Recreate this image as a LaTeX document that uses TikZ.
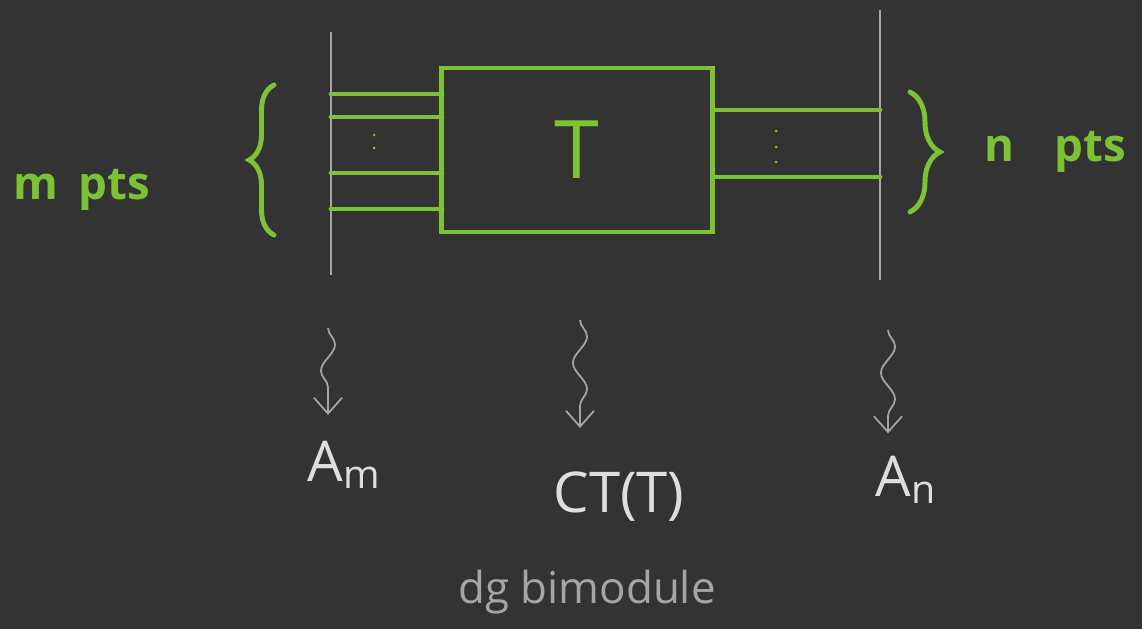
\documentclass[tikz,border=0pt]{standalone}
\usepackage{fontspec}
\setmainfont{Open Sans}
\usetikzlibrary{arrows.meta,decorations.pathmorphing,decorations.pathreplacing}
\definecolor{board}{RGB}{51,51,51}
\definecolor{chalkgreen}{RGB}{124,194,52}
\definecolor{chalkgray}{RGB}{165,165,165}
\definecolor{chalkwhite}{RGB}{222,222,222}
\tikzset{
  strand/.style={chalkgreen, line width=2.8pt, line cap=round},
  wall/.style={chalkgray, line width=1pt},
  curly/.style={chalkgreen, line width=2.8pt, line cap=round, decorate,
    decoration={brace, amplitude=#1}},
  squig/.style={chalkgray, line width=1pt, -{Straight Barb[length=9pt,width=16pt]},
    decorate, decoration={snake, amplitude=4pt, segment length=30pt, post length=9pt}},
  lbl/.style={text=chalkwhite, font=\fontsize{32}{36}\selectfont, inner sep=1pt},
  pts/.style={text=chalkgreen, font=\bfseries\fontsize{26}{30}\selectfont, inner sep=1pt}
}
\begin{document}
\begin{tikzpicture}[x=0.02cm, y=-0.02cm]
% nen bang
\useasboundingbox (0,0) rectangle (1142,629);
\fill[board] (0,0) rectangle (1142,629);
% hai vach
\draw[wall] (331,32) -- (331,275);
\draw[wall] (880,10) -- (880,280);
% hop T
\node[draw=chalkgreen, line width=2.8pt, minimum width=5.42cm, minimum height=3.28cm,
  text=chalkgreen, font=\fontsize{46}{46}\selectfont] (Tbox) at (577,150) {T};
% day ben trai
\foreach \y in {94,117,173,209} {
  \draw[strand] (331,\y) -- (442,\y);
}
\fill[chalkgreen] (374,135) circle (1.5) (374,148) circle (1.5);
% day ben phai
\foreach \y in {110,177} {
  \draw[strand] (713,\y) -- (880,\y);
}
\foreach \y in {131,147,162} {
  \fill[chalkgreen] (776,\y) circle (1.5);
}
% ngoac
\draw[curly=0.5cm] (274,235) -- (274,85);
\draw[curly=0.6cm] (910,92) -- (910,212);
\node[pts] (mpts) at (82,190) {m\hspace{0.4cm}pts};
\node[pts] (npts) at (1055,152) {n\hspace{0.8cm}pts};
% nhan
\node[lbl] (Am) at (344,465) {A\textsubscript{m}};
\node[lbl] (CT) at (619,497) {CT(T)};
\node[lbl] (An) at (906,480) {A\textsubscript{n}};
\node[lbl, text=chalkgray, font=\fontsize{25}{29}\selectfont] (dg) at (587,592) {dg bimodule};
% mui ten luon
\coordinate (am0) at (328,328);
\coordinate (ct0) at (580,320);
\coordinate (an0) at (888,330);
\draw[squig] (am0) -- ([yshift=14pt]am0 |- Am.north);
\draw[squig] (ct0) -- ([yshift=24pt]ct0 |- CT.north);
\draw[squig] (an0) -- ([yshift=12pt]an0 |- An.north);
\end{tikzpicture}
\end{document}
